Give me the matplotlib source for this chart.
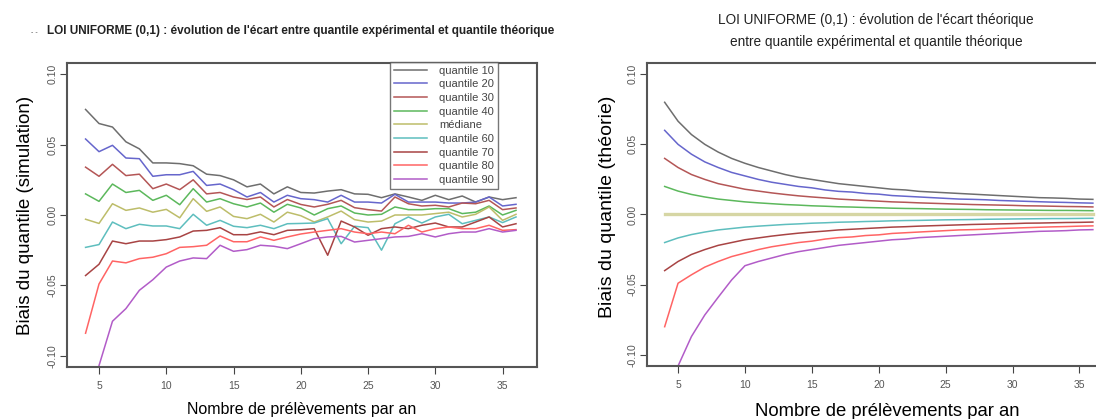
import matplotlib
matplotlib.use("Agg")
import matplotlib.pyplot as plt
import numpy as np

plt.rcParams['font.family'] = ['Liberation Sans', 'DejaVu Sans']

# nombre de prelevements par an
n = list(range(4, 37))

labels = ['quantile 10', 'quantile 20', 'quantile 30', 'quantile 40', 'médiane',
          'quantile 60', 'quantile 70', 'quantile 80', 'quantile 90']
colors = ['#6e6e6e', '#6666cc', '#b45656', '#5cb85c', '#bdbd6a',
          '#5ebebe', '#a84444', '#ff6464', '#b25cc8']

sim_q10 = [0.075, 0.065, 0.0625, 0.052, 0.047, 0.037, 0.037, 0.0365, 0.035, 0.029, 0.028,
           0.025, 0.020, 0.022, 0.015, 0.020, 0.016, 0.0156, 0.017, 0.018, 0.015, 0.0147,
           0.0123, 0.015, 0.0128, 0.0104, 0.014, 0.0109, 0.0135, 0.0092, 0.0128, 0.0109, 0.0123]
sim_q20 = [0.054, 0.045, 0.0495, 0.0405, 0.040, 0.0275, 0.0286, 0.0286, 0.031, 0.021, 0.022,
           0.018, 0.0128, 0.016, 0.0092, 0.014, 0.0116, 0.0109, 0.0092, 0.014, 0.0092, 0.0092,
           0.0085, 0.0147, 0.0092, 0.0092, 0.0092, 0.0085, 0.0085, 0.0092, 0.0128, 0.0064, 0.0076]
sim_q30 = [0.034, 0.0275, 0.036, 0.028, 0.029, 0.0187, 0.022, 0.018, 0.025, 0.015, 0.016,
           0.0128, 0.011, 0.0128, 0.0057, 0.011, 0.0075, 0.0057, 0.0076, 0.0104, 0.0052, 0.0038,
           0.0028, 0.0128, 0.008, 0.0064, 0.0069, 0.0057, 0.0085, 0.008, 0.0104, 0.0038, 0.005]
sim_q40 = [0.015, 0.0097, 0.022, 0.016, 0.0175, 0.0104, 0.014, 0.0073, 0.0187, 0.0092, 0.0116,
           0.008, 0.0057, 0.0085, 0.002, 0.0076, 0.005, 0.0, 0.0045, 0.0064, 0.0014, 0.0,
           0.0005, 0.0057, 0.0038, 0.0038, 0.0045, 0.0045, 0.001, 0.002, 0.0064, 0.0, 0.0033]
sim_q50 = [-0.003, -0.006, 0.008, 0.0033, 0.005, 0.002, 0.004, -0.002, 0.0116, 0.0026, 0.0057,
           -0.001, -0.0026, 0.0005, -0.005, 0.002, -0.0005, -0.005, -0.0014, 0.0028, -0.0033, -0.005,
           -0.0043, 0.0, 0.0, 0.0, 0.001, 0.002, -0.0014, 0.0005, 0.0057, -0.0038, 0.0005]
sim_q60 = [-0.023, -0.021, -0.005, -0.0097, -0.0066, -0.0078, -0.0078, -0.0097, 0.0005, -0.0073, -0.0038,
           -0.008, -0.009, -0.0073, -0.0097, -0.0062, -0.006, -0.0057, -0.0026, -0.0204, -0.008, -0.009,
           -0.025, -0.0062, -0.0014, -0.0057, -0.0014, 0.0005, -0.0062, -0.0038, -0.0014, -0.0054, -0.0014]
sim_q70 = [-0.043, -0.035, -0.0185, -0.0204, -0.0185, -0.0185, -0.0175, -0.0156, -0.0114, -0.0109, -0.009,
           -0.014, -0.014, -0.012, -0.014, -0.0109, -0.0105, -0.0097, -0.0286, -0.0043, -0.0085, -0.0144,
           -0.0097, -0.0085, -0.0097, -0.0073, -0.0057, -0.0085, -0.0085, -0.005, -0.0014, -0.0085, -0.0062]
sim_q80 = [-0.084, -0.049, -0.0327, -0.034, -0.031, -0.030, -0.0275, -0.023, -0.0225, -0.0215, -0.0149,
           -0.019, -0.019, -0.0156, -0.018, -0.0156, -0.0135, -0.0121, -0.0109, -0.0097, -0.0121, -0.0133,
           -0.0121, -0.0133, -0.0073, -0.0121, -0.0097, -0.0085, -0.0097, -0.0097, -0.0073, -0.0109, -0.0104]
sim_q90 = [-0.140, -0.107, -0.0755, -0.0665, -0.0535, -0.046, -0.037, -0.0327, -0.0305, -0.031, -0.0215,
           -0.0258, -0.0246, -0.0215, -0.0222, -0.0239, -0.0204, -0.0168, -0.0156, -0.0152, -0.0192, -0.018,
           -0.0168, -0.0156, -0.0152, -0.0133, -0.0156, -0.0133, -0.0121, -0.0121, -0.0097, -0.0121, -0.0109]

th_q10 = [0.080, 0.0665, 0.057, 0.050, 0.0445, 0.040, 0.0365, 0.0335, 0.031, 0.0285, 0.0265,
          0.025, 0.0235, 0.022, 0.021, 0.020, 0.019, 0.018, 0.0175, 0.0165, 0.016, 0.0155,
          0.015, 0.0145, 0.014, 0.0135, 0.013, 0.0125, 0.012, 0.0118, 0.0115, 0.011, 0.0108]
th_q20 = [0.060, 0.050, 0.043, 0.0375, 0.0335, 0.030, 0.0275, 0.025, 0.023, 0.0215, 0.020,
          0.019, 0.0175, 0.0165, 0.016, 0.015, 0.0145, 0.0135, 0.013, 0.0125, 0.012, 0.0115,
          0.011, 0.0108, 0.0105, 0.010, 0.0097, 0.0094, 0.0091, 0.0088, 0.0086, 0.0083, 0.0081]
th_q30 = [0.040, 0.0335, 0.0285, 0.025, 0.022, 0.020, 0.018, 0.0167, 0.0154, 0.0143, 0.0133,
          0.0125, 0.0118, 0.011, 0.0105, 0.010, 0.0095, 0.009, 0.0087, 0.0083, 0.008, 0.0077,
          0.0074, 0.0071, 0.0069, 0.0067, 0.0065, 0.0062, 0.0061, 0.0059, 0.0057, 0.0056, 0.0054]
th_q40 = [0.020, 0.0167, 0.0143, 0.0125, 0.011, 0.010, 0.009, 0.0083, 0.0077, 0.0071, 0.0067,
          0.0062, 0.0059, 0.0055, 0.0053, 0.005, 0.0048, 0.0045, 0.0043, 0.0042, 0.004, 0.0038,
          0.0037, 0.0036, 0.0034, 0.0033, 0.0032, 0.0031, 0.003, 0.0029, 0.0029, 0.0028, 0.0027]
th_q50 = [0.0] * 33
th_q60 = [-0.020, -0.0167, -0.0143, -0.0125, -0.011, -0.010, -0.009, -0.0083, -0.0077, -0.0071, -0.0067,
          -0.0062, -0.0059, -0.0055, -0.0053, -0.005, -0.0048, -0.0045, -0.0043, -0.0042, -0.004, -0.0038,
          -0.0037, -0.0036, -0.0034, -0.0033, -0.0032, -0.0031, -0.003, -0.0029, -0.0029, -0.0028, -0.0027]
th_q70 = [-0.040, -0.0335, -0.0285, -0.025, -0.022, -0.020, -0.018, -0.0167, -0.0154, -0.0143, -0.0133,
          -0.0125, -0.0118, -0.011, -0.0105, -0.010, -0.0095, -0.009, -0.0087, -0.0083, -0.008, -0.0077,
          -0.0074, -0.0071, -0.0069, -0.0067, -0.0065, -0.0062, -0.0061, -0.0059, -0.0057, -0.0056, -0.0054]
th_q80 = [-0.080, -0.049, -0.043, -0.0375, -0.0335, -0.030, -0.0275, -0.025, -0.023, -0.0215, -0.020,
          -0.019, -0.0175, -0.0165, -0.016, -0.015, -0.0145, -0.0135, -0.013, -0.0125, -0.012, -0.0115,
          -0.011, -0.0108, -0.0105, -0.010, -0.0097, -0.0094, -0.0091, -0.0088, -0.0086, -0.0083, -0.0081]
th_q90 = [-0.140, -0.108, -0.087, -0.0716, -0.059, -0.0467, -0.0365, -0.0335, -0.031, -0.0285, -0.0265,
          -0.025, -0.0235, -0.022, -0.021, -0.020, -0.019, -0.018, -0.0175, -0.0165, -0.016, -0.0155,
          -0.015, -0.0145, -0.014, -0.0135, -0.013, -0.0125, -0.012, -0.0118, -0.0115, -0.011, -0.0108]

sim = [sim_q10, sim_q20, sim_q30, sim_q40, sim_q50, sim_q60, sim_q70, sim_q80, sim_q90]
theo = [th_q10, th_q20, th_q30, th_q40, th_q50, th_q60, th_q70, th_q80, th_q90]

fig = plt.figure(figsize=(10.96, 4.19), dpi=100)
ax1 = fig.add_axes([67 / 1096, 1 - 367 / 419, 470 / 1096, 304 / 419])
ax2 = fig.add_axes([647 / 1096, 1 - 366 / 419, 463 / 1096, 303 / 419])


def style(ax, xmin, xmax, lab_size):
    ax.set_xlim(xmin, xmax)
    ax.set_ylim(-0.108, 0.108)
    ax.set_xticks([5, 10, 15, 20, 25, 30, 35])
    ax.set_yticks([-0.10, -0.05, 0.0, 0.05, 0.10])
    ax.set_yticklabels(['-0.10', '-0.05', '0.00', '0.05', '0.10'], rotation=90, va='center')
    ax.tick_params(direction='out', length=5, width=0.8, colors='#444444',
                   labelsize=7.5, labelcolor='#555555')
    ax.tick_params(axis='x', pad=5)
    ax.tick_params(axis='y', pad=1.5)
    for s in ax.spines.values():
        s.set_color('#555555')
        s.set_linewidth(1.5)
    ax.set_xlabel('Nombre de prélèvements par an', fontsize=lab_size, labelpad=8)


for vals, c, lab in zip(sim, colors, labels):
    ax1.plot(n, vals, color=c, lw=1.1, label=lab)
style(ax1, 2.62, 37.56, 11.5)
ax1.set_ylabel('Biais du quantile (simulation)', fontsize=13.5, labelpad=10)
leg = ax1.legend(loc='upper right', bbox_to_anchor=(0.917, 1.004), borderaxespad=0,
                 fontsize=8, frameon=True, fancybox=False, handlelength=3.0,
                 labelspacing=0.33, borderpad=0.35, handletextpad=1.1)
leg.get_frame().set_edgecolor('#555555')
leg.get_frame().set_linewidth(1.0)
for t in leg.get_texts():
    t.set_color('#444444')
fig.text(34 / 1096, 1 - 33 / 419, '- -', ha='center', va='center', fontsize=5, color='#555555')
fig.text(301 / 1096, 1 - 31 / 419,
         "LOI UNIFORME (0,1) : évolution de l'écart entre quantile expérimental et quantile théorique",
         ha='center', va='center', fontsize=8.5, fontweight='bold', color='#222222')

for i, (vals, c) in enumerate(zip(theo, colors)):
    if i == 4:
        ax2.plot(n, vals, color='#d6d6a4', lw=2.4)
    else:
        ax2.plot(n, vals, color=c, lw=1.1)
style(ax2, 2.68, 37.28, 13.3)
ax2.xaxis.set_label_coords(0.518, -0.122)
ax2.set_ylabel('Biais du quantile (théorie)', fontsize=14, labelpad=8)
ax2.yaxis.set_label_coords(-0.068, 0.525)
fig.text(876 / 1096, 1 - 20 / 419, "LOI UNIFORME (0,1) : évolution de l'écart théorique",
         ha='center', va='center', fontsize=9.8, color='#222222')
fig.text(876 / 1096, 1 - 42 / 419, "entre quantile expérimental et quantile théorique",
         ha='center', va='center', fontsize=9.8, color='#222222')

fig.savefig('out.png', dpi=100)
